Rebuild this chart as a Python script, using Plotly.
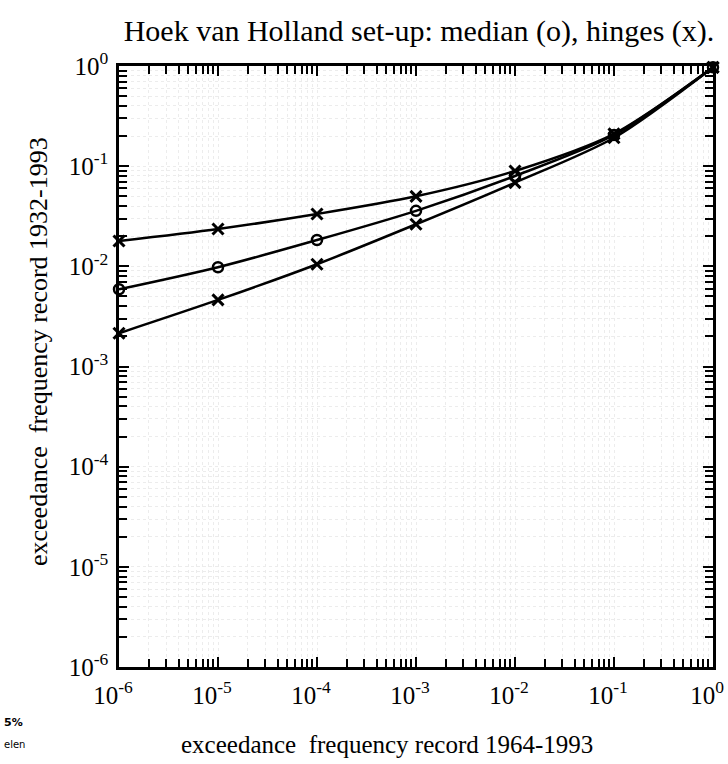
import plotly.graph_objects as go

# data
x_freq = [1e-6, 1e-5, 1e-4, 1e-3, 1e-2, 1e-1, 1e0]
upper_hinge = [0.0179, 0.0236, 0.0333, 0.0500, 0.0895, 0.210, 0.97]
median = [0.0059, 0.0098, 0.0183, 0.0358, 0.0798, 0.205, 0.97]
lower_hinge = [0.00215, 0.00462, 0.0105, 0.0263, 0.0685, 0.192, 0.97]

tick_vals = [1e-6, 1e-5, 1e-4, 1e-3, 1e-2, 1e-1, 1e0]
tick_text = ["10<sup>-6</sup>", "10<sup>-5</sup>", "10<sup>-4</sup>", "10<sup>-3</sup>",
             "10<sup>-2</sup>", "10<sup>-1</sup>", "10<sup>0</sup>"]

FONT = "Liberation Serif"

fig = go.Figure()

def add(series, symbol, size, lw):
    fig.add_trace(go.Scatter(
        x=x_freq, y=series, mode="lines+markers",
        line=dict(color="black", width=2.5, shape="spline", smoothing=0.8),
        marker=dict(symbol=symbol, size=size, color="black",
                    line=dict(color="black", width=lw)),
        showlegend=False, cliponaxis=False))

add(upper_hinge, "x-thin-open", 11, 3)
add(median, "circle-open", 10, 2.5)
add(lower_hinge, "x-thin-open", 11, 3)

axis_common = dict(
    type="log", automargin=False,
    tickvals=tick_vals, ticktext=tick_text,
    ticks="inside", ticklen=10, tickwidth=2, tickcolor="black",
    showline=True, linecolor="black", linewidth=2.5, mirror="allticks",
    showgrid=False, zeroline=False, ticklabeloverflow="allow",
    tickfont=dict(family=FONT, size=25, color="black"),
    minor=dict(ticks="inside", ticklen=8, tickwidth=2, tickcolor="black",
               dtick="D1", showgrid=True, gridcolor="#ececec",
               griddash="dot", gridwidth=1),
)

fig.update_xaxes(range=[-6, 0], ticklabelstandoff=4, ticklabelshift=-6, **axis_common)
fig.update_yaxes(range=[-6, 0], ticklabelstandoff=3, **axis_common)

fig.update_layout(
    width=728, height=764,
    margin=dict(l=119, r=15, t=66, b=97, autoexpand=False),
    paper_bgcolor="white", plot_bgcolor="white",
    font=dict(family=FONT, color="black"),
    title=dict(text="Hoek van Holland set-up: median (o), hinges (x).",
               font=dict(family=FONT, size=30, color="black"),
               x=419 / 728, xanchor="center", y=1 - 30 / 764, yanchor="middle"),
    annotations=[
        dict(text="exceedance&nbsp; frequency record 1964-1993", xref="paper", yref="paper",
             x=(387 - 119) / 594, y=-(745 - 667) / 601, xanchor="center", yanchor="middle",
             showarrow=False, font=dict(family=FONT, size=25, color="black")),
        dict(text="exceedance&nbsp; frequency record 1932-1993", xref="paper", yref="paper",
             x=-(119 - 38) / 594, y=(667 - 352) / 601, xanchor="center", yanchor="middle",
             textangle=-90,
             showarrow=False, font=dict(family=FONT, size=26, color="black")),
        dict(text="<b>5%</b>", xref="paper", yref="paper",
             x=-(119 - 2) / 594, y=-(722 - 667) / 601, xanchor="left", yanchor="middle",
             showarrow=False, font=dict(family="DejaVu Sans", size=11, color="black")),
        dict(text="elen", xref="paper", yref="paper",
             x=-(119 - 2) / 594, y=-(745 - 667) / 601, xanchor="left", yanchor="middle",
             showarrow=False, font=dict(family="DejaVu Sans", size=10, color="black")),
    ],
)

fig.write_html("out.html")
